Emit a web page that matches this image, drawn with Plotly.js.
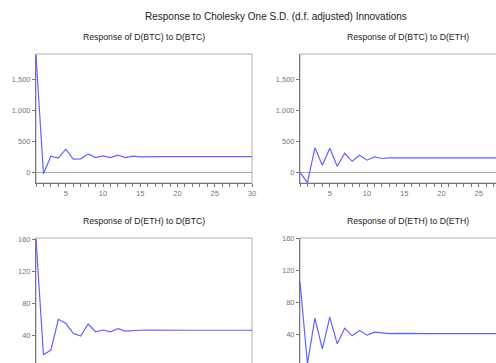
<!DOCTYPE html>
<html><head><meta charset="utf-8">
<script src="https://cdn.plot.ly/plotly-3.0.1.min.js"></script>
<style>html,body{margin:0;padding:0;overflow:hidden;background:#fff;width:496px;height:363px}</style>
</head><body><div id="chart"></div>
<script>
const periods = [1,2,3,4,5,6,7,8,9,10,11,12,13,14,15,16,17,18,19,20,21,22,23,24,25,26,27,28,29,30];
const btcToBtc = [1890,-20,262,230,375,215,220,300,241,268,241,278,241,262,252,258,255,256,255,255,255,255,255,255,255,255,255,255,255,255];
const btcToEth = [0,-165,397,117,392,100,310,180,278,198,252,225,236,232,235,235,235,235,235,235,235,235,235,235,235,235,235,235,235,235];
const ethToBtc = [160,15.3,21.2,59.7,54.7,42.1,38.7,53.8,44.1,46.3,44.1,47.9,45,45.8,46,46.2,46,46,46,46,46,46,46,46,46,46,46,46,46,46];
const ethToEth = [106,4,60.7,22.6,62,28.8,48.3,38.8,45.3,39.6,43.3,42.1,41.6,41.8,41.6,41.6,41.6,41.6,41.6,41.6,41.6,41.6,41.6,41.6,41.6,41.6,41.6,41.6,41.6,41.6];
const panelTitles = ["Response of D(BTC) to D(BTC)","Response of D(BTC) to D(ETH)","Response of D(ETH) to D(BTC)","Response of D(ETH) to D(ETH)"];
const mainTitle = "Response to Cholesky One S.D. (d.f. adjusted) Innovations";
const xTicksLeft = [5,10,15,20,25,30];
const xTicksRight = [5,10,15,20,25];
const yTicksTop = [0,500,1000,1500];
const yTicksBottom = [40,80,120,160];

const W = 551, H = 400;
const FONT = "Liberation Sans, Arial, sans-serif";
const lineColor = "#6262ff";
const series = [btcToBtc, btcToEth, ethToBtc, ethToEth];
const traces = series.map((s,i)=>({
  x: periods, y: s, type:'scatter', mode:'lines',
  line:{color:lineColor, width:1.2}, xaxis: i===0?'x':'x'+(i+1), yaxis: i===0?'y':'y'+(i+1),
  hoverinfo:'skip', showlegend:false
}));

const xd = [[36/W,252/W],[300/W,516/W]];
const yd = [[1-183/H,1-54/H],[1-367/H,1-238/H]];
const layout = {
  width:W, height:H, margin:{l:0,r:0,t:0,b:0},
  paper_bgcolor:'#fff', plot_bgcolor:'#fff',
  font:{family:FONT, size:8, color:'#555'},
  showlegend:false, annotations:[], shapes:[]
};
function xa(i){
  return {domain: xd[i%2], range:[1,30], tickvals:(i%2===0?xTicksLeft:xTicksRight), ticks:'outside', ticklen:3, tickcolor:'#777',
    minor:{dtick:1, tick0:1, ticks:'outside', ticklen:3, tickcolor:'#777'},
    showticklabels: i<2,
    showline:true, mirror:false, linecolor:'#777', linewidth:1, showgrid:false, zeroline:false,
    tickfont:{size:7.5, color:'#777', family:FONT}, anchor: i===0?'y':'y'+(i+1), fixedrange:true};
}
function ya(i){
  const top = i<2;
  return {domain: yd[top?0:1], range: top?[-170,1910]:(i===2?[0,161.5]:[0,160.5]),
    tickvals: top?yTicksTop:yTicksBottom, tickformat:',', ticks:'outside', ticklen:3, tickcolor:'#777',
    showline:true, mirror:false, linecolor:'#777', linewidth:1, showgrid:false,
    zeroline: top, zerolinecolor:'#aaa', zerolinewidth:1.6,
    tickfont:{size:7.5, color:'#777', family:FONT}, anchor: i===0?'x':'x'+(i+1), fixedrange:true};
}
for(let i=0;i<4;i++){
  const xn = i===0?'x':'x'+(i+1), yn = i===0?'y':'y'+(i+1);
  layout[i===0?'xaxis':'xaxis'+(i+1)] = xa(i);
  layout[i===0?'yaxis':'yaxis'+(i+1)] = ya(i);
  layout.shapes.push({type:'rect', xref:xn+' domain', yref:yn+' domain', x0:0, x1:1, y0:0, y1:1,
    line:{color:'#b0b0b0', width:1}, fillcolor:'rgba(0,0,0,0)', layer:'below'});
  const xc = (xd[i%2][0]+xd[i%2][1])/2;
  const yTopPx = i<2?54:238;
  layout.annotations.push({text:panelTitles[i], xref:'paper', yref:'paper', x:xc, y:1-(yTopPx-17)/H,
    xanchor:'center', yanchor:'middle', showarrow:false, font:{size:8.7, color:'#222', family:FONT}});
}
layout.annotations.push({text:mainTitle, xref:'paper', yref:'paper', x:275.5/W, y:1-17/H,
  xanchor:'center', yanchor:'middle', showarrow:false, font:{size:10, color:'#222', family:FONT}});

Plotly.newPlot('chart', traces, layout, {staticPlot:true, displayModeBar:false});
</script></body></html>
